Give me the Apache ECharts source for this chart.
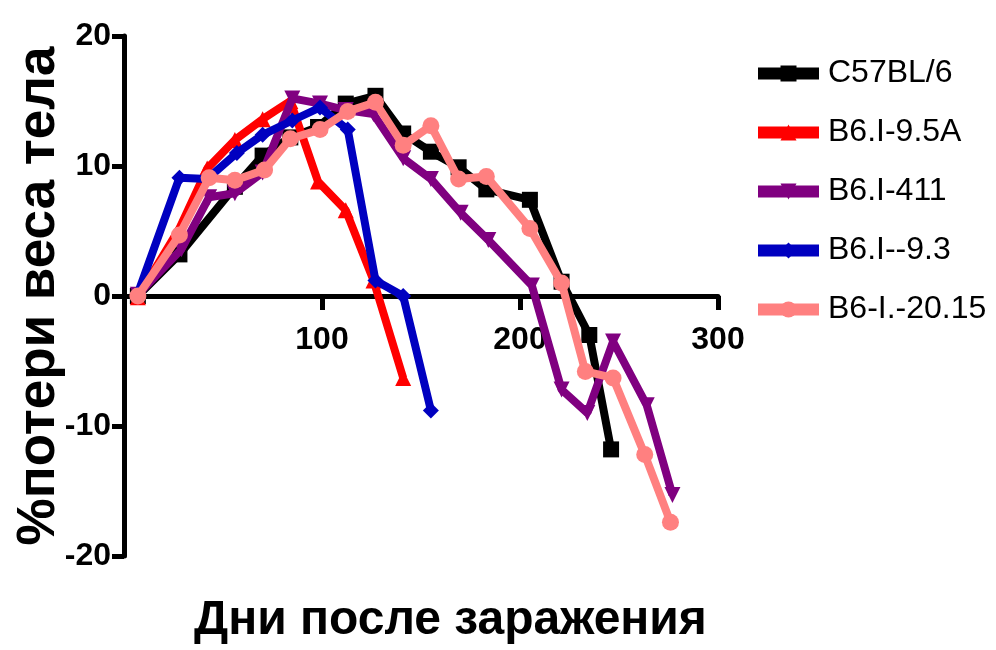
<!DOCTYPE html>
<html>
<head>
<meta charset="utf-8">
<script src="https://cdn.jsdelivr.net/npm/echarts@6/dist/echarts.min.js"></script>
<style>
  html, body { margin: 0; padding: 0; background: #ffffff; }
  #chart { width: 996px; height: 650px; }
</style>
</head>
<body>
<div id="chart"></div>
<script>
// Body-weight loss (%) per mouse strain, by days after infection
const seriesNames = ['C57BL/6', 'B6.I-9.5A', 'B6.I-411', 'B6.I--9.3', 'B6-I.-20.15'];

const daysC57  = [7, 28, 56, 70, 84, 98, 112, 127, 141, 155, 169, 183, 205, 221, 235, 246];
const lossC57  = [0, 3.2, 8.4, 10.8, 12.2, 13.0, 14.8, 15.4, 12.5, 11.1, 9.9, 8.2, 7.4, 1.1, -3.0, -11.8];

const days95A  = [7, 28, 42, 56, 70, 84, 98, 112, 126, 141];
const loss95A  = [-0.1, 5.2, 9.8, 12.0, 13.6, 15.0, 8.8, 6.6, 1.2, -6.3];

const days411  = [7, 29, 43, 56, 70, 85, 99, 112, 126, 141, 155, 170, 184, 206, 221, 234, 247, 264, 277];
const loss411  = [0.1, 3.6, 7.6, 7.9, 9.5, 15.2, 14.8, 14.3, 14.0, 10.6, 9.0, 6.4, 4.3, 0.8, -7.2, -9.0, -3.5, -8.4, -15.3];

const days93   = [7, 28, 42, 57, 70, 85, 99, 113, 127, 141, 155];
const loss93   = [0.2, 9.1, 9.0, 11.0, 12.4, 13.5, 14.5, 12.8, 1.2, 0.0, -8.8];

const days2015 = [7, 28, 43, 56, 71, 84, 99, 113, 127, 141, 155, 169, 183, 205, 221, 233, 247, 263, 276];
const loss2015 = [0, 4.7, 9.1, 8.9, 9.7, 12.1, 12.8, 14.2, 14.9, 11.6, 13.1, 9.0, 9.2, 5.2, 1.0, -5.8, -6.3, -12.2, -17.4];

const narrow = '"Liberation Sans Narrow", "Liberation Sans", Arial, sans-serif';
const bold = '"Liberation Sans", Arial, sans-serif';

// plot box in pixels
const gridTop = 36, gridBottom = 94, plotHeight = 650 - gridTop - gridBottom;
const yMin = -20, yMax = 20;
// lift the day axis from the bottom edge up to the zero line
const zeroLift = -plotHeight * (0 - yMin) / (yMax - yMin);

function pairs(xs, ys) { return xs.map((x, i) => [x, ys[i]]); }

const styles = [
  { color: '#000000', symbol: 'rect',     rotate: 0 },
  { color: '#ff0000', symbol: 'triangle', rotate: 0 },
  { color: '#800080', symbol: 'triangle', rotate: 180 },
  { color: '#0000c0', symbol: 'diamond',  rotate: 0 },
  { color: '#ff8080', symbol: 'circle',   rotate: 0 }
];
const dataSets = [
  pairs(daysC57, lossC57),
  pairs(days95A, loss95A),
  pairs(days411, loss411),
  pairs(days93, loss93),
  pairs(days2015, loss2015)
];

const chart = echarts.init(document.getElementById('chart'), null, { renderer: 'canvas' });

chart.setOption({
  animation: false,
  backgroundColor: '#ffffff',
  grid: {
    left: 124, right: 278, top: gridTop, bottom: gridBottom,
    containLabel: false, outerBoundsMode: 'none'
  },
  title: {
    text: 'Дни после заражения',
    left: 194, top: 597,
    padding: 0,
    textStyle: { fontFamily: bold, fontWeight: 'bold', fontSize: 48, color: '#000' }
  },
  legend: {
    orient: 'vertical',
    left: 752, top: 54,
    padding: 0,
    itemWidth: 61, itemHeight: 20, itemGap: 20,
    data: seriesNames,
    lineStyle: { width: 12 },
    textStyle: { fontFamily: narrow, fontSize: 32, lineHeight: 39, color: '#000', padding: [0, 0, 0, 4] }
  },
  xAxis: {
    type: 'value',
    position: 'bottom',
    offset: zeroLift,
    min: 0, max: 300, interval: 100,
    splitLine: { show: false },
    axisLine: { onZero: false, lineStyle: { color: '#000', width: 5 } },
    axisTick: { show: true, length: 14, lineStyle: { color: '#000', width: 5 } },
    axisLabel: {
      margin: 28,
      fontFamily: narrow, fontWeight: 'bold', fontSize: 32, color: '#000',
      formatter: v => (v === 0 ? '' : String(v))
    }
  },
  yAxis: {
    type: 'value',
    min: yMin, max: yMax, interval: 10,
    name: '%потери веса тела',
    nameLocation: 'middle',
    nameGap: 58,
    nameMoveOverlap: false,
    nameTextStyle: { fontFamily: bold, fontWeight: 'bold', fontSize: 53, color: '#000' },
    splitLine: { show: false },
    axisLine: { onZero: false, lineStyle: { color: '#000', width: 5 } },
    axisTick: { show: true, length: 12, lineStyle: { color: '#000', width: 5 } },
    axisLabel: {
      margin: 13,
      fontFamily: narrow, fontWeight: 'bold', fontSize: 32, color: '#000'
    }
  },
  series: seriesNames.map((name, i) => ({
    name,
    type: 'line',
    data: dataSets[i],
    symbol: styles[i].symbol,
    symbolRotate: styles[i].rotate,
    symbolSize: i === 4 ? 17 : 16,
    z: 2 + i,
    color: styles[i].color,
    itemStyle: { color: styles[i].color },
    lineStyle: { color: styles[i].color, width: 8 }
  }))
});
</script>
</body>
</html>
